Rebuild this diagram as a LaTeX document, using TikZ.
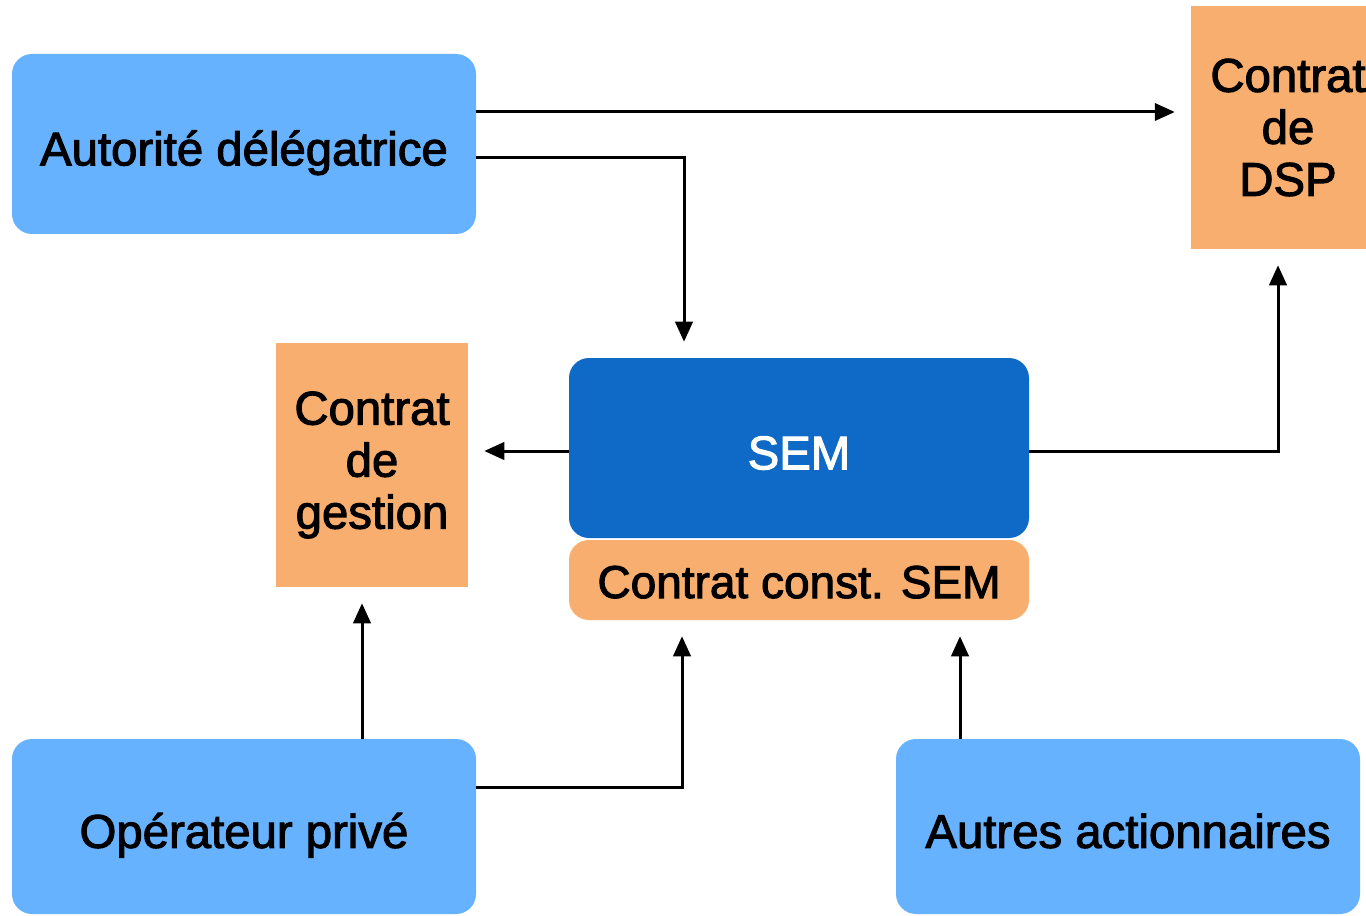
\documentclass[tikz,border=0pt]{standalone}
\usepackage{fontspec}
\setmainfont{Liberation Sans}[FakeBold=2.2]
\usetikzlibrary{arrows.meta}
\definecolor{lightblue}{HTML}{66B2FF}
\definecolor{darkblue}{HTML}{0E6AC6}
\definecolor{peach}{HTML}{F8AE6E}
\tikzset{
  txt/.style={font=\fontsize{35.5}{39}\selectfont, align=center, inner sep=0pt},
  oneline/.style={text height=32pt, text depth=0pt},
  party/.style={txt, oneline, fill=lightblue, rounded corners=15pt, minimum width=348pt},
  contract/.style={txt, fill=peach},
  conn/.style={line width=2.25pt, -{Triangle[length=15pt,width=13pt]}, shorten >=12pt}
}
\begin{document}
\begin{tikzpicture}[x=0.75pt,y=-0.75pt]
  \useasboundingbox (0,0) rectangle (1366,916);
  \fill[white] (0,0) rectangle (1366,916);

  % parties
  \node[party, minimum height=135pt] (aut) at (244,144) {Autorité délégatrice};
  \node[party, minimum height=131.25pt] (op) at (244,826.5) {Opérateur privé};
  \node[party, minimum height=131.25pt] (autres) at (1128,826.5) {Autres actionnaires};

  % the company and its founding contract
  \node[txt, oneline, fill=darkblue, text=white, rounded corners=15pt,
        minimum width=345pt, minimum height=135pt] (sem) at (799,448) {SEM};
  \node[contract, text height=27pt, text depth=0pt, rounded corners=15pt,
        minimum width=345pt, minimum height=60pt,
        font=\fontsize{34.5}{39}\selectfont] (const) at (799,580) {Contrat const. SEM};

  % contracts
  \node[contract, minimum width=145.5pt, minimum height=182.25pt] (dsp) at (1288,127.5) {Contrat\\de\\DSP};
  \node[contract, minimum width=144pt, minimum height=183pt] (gest) at (372,465) {Contrat\\de\\gestion};

  % connectors
  \draw[conn] ([yshift=24pt]aut.east) -- ([yshift=24pt]aut.east -| dsp.west);
  \draw[conn] ([yshift=-10.5pt]aut.east) -| ([xshift=-86.25pt]sem.north);
  \draw[conn] ([yshift=-2.25pt]sem.west) -- ([yshift=-2.25pt]sem.west -| gest.east);
  \draw[conn] ([yshift=-2.25pt]sem.east) -| ([xshift=-7.5pt]dsp.south);
  \draw[conn] ([xshift=-7.5pt]gest.south |- op.north) -- ([xshift=-7.5pt]gest.south);
  \draw[conn] ([yshift=29.6pt]op.east) -| ([xshift=-87.75pt]const.south);
  \draw[conn] ([xshift=120.75pt]const.south |- autres.north) -- ([xshift=120.75pt]const.south);
\end{tikzpicture}
\end{document}
